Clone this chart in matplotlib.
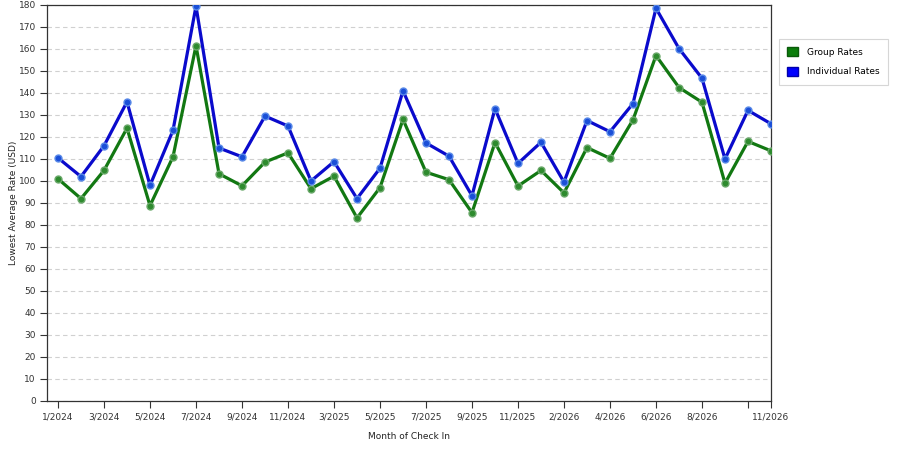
import matplotlib
matplotlib.use("Agg")
import matplotlib.pyplot as plt
from matplotlib.patches import Patch

# month of check in (one point per month with data)
months = ['1/2024', '2/2024', '3/2024', '4/2024', '5/2024', '6/2024', '7/2024', '8/2024',
          '9/2024', '10/2024', '11/2024', '1/2025', '3/2025', '4/2025', '5/2025', '6/2025',
          '7/2025', '8/2025', '9/2025', '10/2025', '11/2025', '1/2026', '2/2026', '3/2026',
          '4/2026', '5/2026', '6/2026', '7/2026', '8/2026', '9/2026', '10/2026', '11/2026']

group_rates = [101, 92, 104.8, 124, 88.8, 111, 161.5, 103.3, 97.8, 108.6, 112.8, 96.5,
               102.2, 83.2, 97, 128, 104, 100.6, 85.6, 117.5, 97.7, 104.8, 94.6, 115.2,
               110.3, 127.8, 157, 142.5, 135.8, 99, 118, 113.7]

individual_rates = [110.5, 102, 116, 136, 98, 123, 179.5, 115, 111, 129.5, 125, 100,
                    108.8, 92, 105.8, 141, 117.3, 111.3, 93.3, 132.9, 108, 117.6, 99.5, 127.5,
                    122.4, 135.2, 178.5, 160.2, 146.7, 110, 132.1, 126]

# ticks every second month, 10/2026 tick has no label
tick_idx = list(range(0, 29, 2)) + [30, 31]
tick_labels = [months[i] if i != 30 else '' for i in tick_idx]

plt.rcParams['font.family'] = ['DejaVu Sans']
plt.rcParams['font.size'] = 6.5

fig = plt.figure(figsize=(9, 4.5), dpi=100)
ax = fig.add_axes([47 / 900, 1 - 401 / 450, (771 - 47) / 900, 396 / 450])

x = list(range(len(months)))
ax.plot(x, group_rates, color='#127812', lw=2.3, marker='o', ms=5,
        mfc='#2e8b2e', mec='#6aa86a', mew=1, zorder=3)
ax.plot(x, individual_rates, color='#0a0acc', lw=2.3, marker='o', ms=5,
        mfc='#1a4fd8', mec='#5a8ae8', mew=1, zorder=3)

ax.set_ylim(0, 180)
ax.set_yticks(range(0, 181, 10))
ax.set_xticks(tick_idx)
ax.set_xticklabels(tick_labels)
ax.yaxis.grid(True, linestyle=(0, (4, 3)), color='#d0d0d0', lw=0.8)
ax.set_axisbelow(True)
for s in ax.spines.values():
    s.set_color('#333333')
    s.set_linewidth(0.9)
ax.tick_params(axis='both', colors='#333333', length=5, width=0.8, labelsize=6.5, pad=3)
ax.set_xlim(0 - 11 / 23, 31)

ax.set_xlabel('Month of Check In', fontsize=6.5, color='#222222', labelpad=8)
ax.set_ylabel('Lowest Average Rate (USD)', fontsize=6.5, color='#222222')
ax.yaxis.set_label_coords(-0.04, 0.5)

handles = [Patch(facecolor='#0b7d0b', edgecolor='#0a5a0a', label='Group Rates'),
           Patch(facecolor='#0000ff', edgecolor='#0000aa', label='Individual Rates')]
leg = fig.legend(handles=handles, loc='upper left', bbox_to_anchor=(779 / 900, 1 - 39 / 450),
                 fontsize=6.5, frameon=True, fancybox=False, handlelength=1.2, handleheight=1.2,
                 borderpad=0.9, labelspacing=1.1, handletextpad=1.0, borderaxespad=0)
leg.get_frame().set_edgecolor('#cccccc')
leg.get_frame().set_linewidth(0.8)

fig.savefig('out.png', dpi=100)
